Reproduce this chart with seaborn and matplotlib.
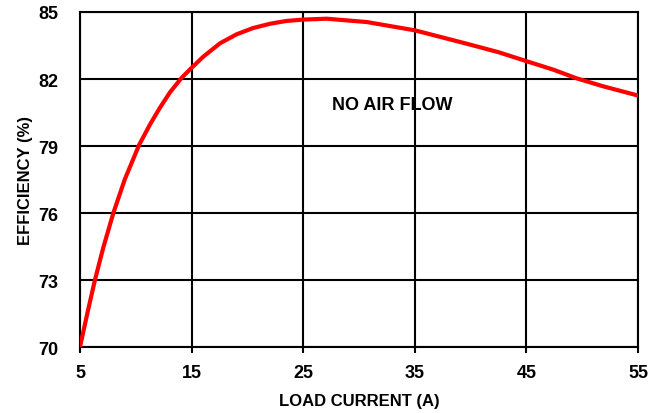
import matplotlib
matplotlib.use('Agg')
import matplotlib.pyplot as plt
import seaborn as sns
import pandas as pd

# 부하 전류 (A) vs 효율 (%) - 그림에서 읽은 값
load_current = [5, 5.7, 6.34, 7.07, 7.99, 9.01, 10.3, 11.27, 12.17, 13.06, 14.1, 15, 16.05, 17.55,
                19.03, 20.5, 22.0, 23.5, 25.0, 27.1, 30.7, 35, 39.65, 42.5, 45, 47.4, 49.5, 51.9, 55]
efficiency = [70.0, 71.6, 73.0, 74.42, 76.0, 77.5, 79.05, 79.96, 80.72, 81.4, 82.05, 82.5, 83.0, 83.6,
              84.0, 84.28, 84.47, 84.6, 84.66, 84.7, 84.55, 84.18, 83.58, 83.2, 82.8, 82.42, 82.03, 81.67, 81.26]

x_ticks = [5, 15, 25, 35, 45, 55]
y_ticks = [70, 73, 76, 79, 82, 85]

df = pd.DataFrame({'load': load_current, 'eff': efficiency})

sns.set_style('white')
plt.rcParams['font.family'] = ['Liberation Sans', 'DejaVu Sans']
plt.rcParams['text.color'] = 'black'
plt.rcParams['axes.labelcolor'] = 'black'
plt.rcParams['xtick.color'] = 'black'
plt.rcParams['ytick.color'] = 'black'

fig = plt.figure(figsize=(6.54, 4.14), dpi=100)
ax = fig.add_axes([0.1223, 0.1594, 0.8532, 0.8092])

sns.lineplot(data=df, x='load', y='eff', ax=ax, color='#ff0000', linewidth=3, zorder=3)

ax.set_xlim(5, 55)
ax.set_ylim(70, 85)
ax.set_xticks(x_ticks)
ax.set_yticks(y_ticks)
ax.grid(True, color='black', linewidth=1.5)
for s in ax.spines.values():
    s.set_color('black')
    s.set_linewidth(1.5)

ax.tick_params(axis='x', bottom=True, length=4, width=1.5, pad=8, labelsize=13)
ax.tick_params(axis='y', left=False, pad=12, labelsize=13)
for lab in ax.get_xticklabels() + ax.get_yticklabels():
    lab.set_fontweight('bold')

ax.set_xlabel('LOAD CURRENT (A)', fontsize=12, fontweight='bold', labelpad=9)
ax.set_ylabel('EFFICIENCY (%)', fontsize=12, fontweight='bold', labelpad=4)

ax.text(32.96, 80.84, 'NO AIR FLOW', fontsize=13, fontweight='bold', ha='center', va='center')

fig.savefig('out.png', dpi=100)
